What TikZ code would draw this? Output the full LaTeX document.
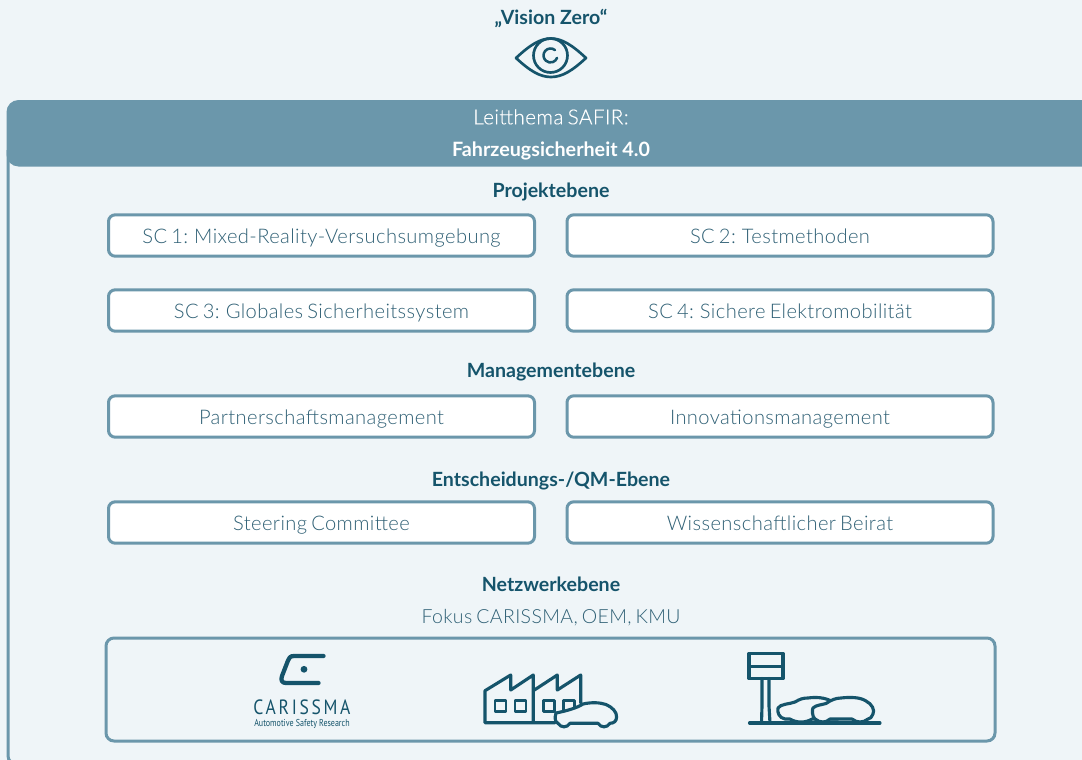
\documentclass[tikz,border=0pt]{standalone}
\usepackage{fontspec}
\setmainfont{Lato}[UprightFont=* Light,BoldFont=* Bold,LetterSpace=2,WordSpace=0.7]
\newfontfamily\boldlbl{Lato Bold}[LetterSpace=0]
\newfontfamily\whitefont{Lato Light}[FakeBold=0.25,LetterSpace=2,WordSpace=0.7]
\newfontfamily\logofont{PT Sans}[FakeStretch=0.85,LetterSpace=13]
\newfontfamily\logosmall{PT Sans}[FakeStretch=0.8]
\definecolor{bgc}{HTML}{EFF5F8}
\definecolor{framec}{HTML}{6B97AB}
\definecolor{darkc}{HTML}{15546B}
\definecolor{lightc}{HTML}{2F6075}
\tikzset{
 px/.style={x=0.75pt,y=-0.75pt},
 sc/.style={draw=framec,line width=2.25pt,fill=white,rounded corners=5pt,minimum width=319.5pt,minimum height=31pt,inner sep=0pt,text=lightc,text height=11.5pt,text depth=0pt,font=\fontsize{15.1pt}{17pt}\selectfont},
 head/.style={text=darkc,inner sep=0pt,text height=10.2pt,text depth=0pt,font=\boldlbl\fontsize{14.7pt}{17pt}\selectfont},
 sub/.style={text=lightc,inner sep=0pt,text height=10.2pt,text depth=0pt,font=\fontsize{14.6pt}{17pt}\selectfont},
 ic/.style={draw=darkc,line width=2.35pt,line join=round,line cap=round},
 icf/.style={ic,fill=bgc},
}
\begin{document}
\begin{tikzpicture}[px]
\useasboundingbox (0,0) rectangle (1082,760);
\fill[bgc] (0,0) rectangle (1082,760);
% frame
\begin{scope}
\clip (0,0) rectangle (1082,760);
\draw[framec,line width=2.25pt,rounded corners=7pt] (8,150) -- (8,765) -- (40,765);
\fill[framec,rounded corners=9pt] (6.5,100) rectangle (1110,166.5);
\end{scope}
% title
\node[head] (vision) at (551,17.5) {„Vision Zero“};
% eye
\draw[ic,line width=2pt] (516,58) .. controls (530,45) and (540,38.5) .. (551,38.5) .. controls (562,38.5) and (572,45) .. (586,58) .. controls (572,71) and (562,77) .. (551,77) .. controls (540,77) and (530,71) .. (516,58) -- cycle;
\draw[ic,line width=2pt] (550.5,55.5) circle[radius=17];
\draw[ic,line width=1.9pt] (555,50.1) arc[start angle=-50,end angle=-340,radius=7];
% header
\node[text=white,inner sep=0pt,text height=10.2pt,text depth=0pt,font=\whitefont\fontsize{15.5pt}{17pt}\selectfont] (h1) at (551,117.5) {Leitthema SAFIR:};
\node[text=white,inner sep=0pt,text height=10.2pt,text depth=0pt,font=\boldlbl\fontsize{14.8pt}{17pt}\selectfont] (h2) at (551,149.5) {Fahrzeugsicherheit 4.0};
\node[head] (pe) at (551,190.5) {Projektebene};
\node[sc] (sc1) at (321.5,235.5) {SC 1: Mixed-Reality-Versuchsumgebung};
\node[sc] (sc2) at (780,235.5) {SC 2: Testmethoden};
\node[sc] (sc3) at (321.5,310.5) {SC 3: Globales Sicherheitssystem};
\node[sc] (sc4) at (780,310.5) {SC 4: Sichere Elektromobilität};
\node[head] (me) at (551,370.5) {Managementebene};
\node[sc] (m1) at (321.5,416.5) {Partnerschaftsmanagement};
\node[sc] (m2) at (780,416.5) {Innovationsmanagement};
\node[head] (ee) at (551,479.5) {Entscheidungs-/QM-Ebene};
\node[sc] (e1) at (321.5,522.5) {Steering Committee};
\node[sc] (e2) at (780,522.5) {Wissenschaftlicher Beirat};
\node[head] (ne) at (551,584.5) {Netzwerkebene};
\node[sub] (fk) at (551,616.5) {Fokus CARISSMA, OEM, KMU};
\draw[framec,line width=2.25pt,rounded corners=6pt] (106,638) rectangle (995,741);
% CARISSMA logo
\draw[ic,line width=3.2pt] (323.5,656) -- (294,656) .. controls (290,656) and (289,658) .. (288,660.5) -- (282,676) .. controls (280.5,680.5) and (282,683) .. (286,683) -- (318.5,683);
\fill[darkc] (304,669.3) circle[radius=3.4];
\node[text=darkc,inner sep=0pt,font=\logofont\fontsize{15.5pt}{16pt}\selectfont] (lg1) at (302,707) {CARISSMA};
\node[text=darkc,inner sep=0pt,font=\logosmall\fontsize{7.5pt}{8pt}\selectfont] (lg2) at (302,724) {Automotive Safety Research};
% factory
\draw[ic] (555,722.7) -- (485,722.7) -- (485,690.7) -- (510.7,675) -- (510.7,690) -- (533.3,675) -- (533.3,722.7);
\draw[ic] (533.3,690.7) -- (557.3,675) -- (557.3,690) -- (580.7,675) -- (580.7,703);
\foreach \wx in {495,515,543.3,563.3}{\draw[ic,line width=2.1pt] (\wx,700.7) rectangle +(11,11);}
\draw[icf] (558,723.3) .. controls (555,722) and (554.5,718) .. (556,713) .. controls (566,711) and (577,708) .. (583,704) .. controls (592,702) and (600,702.5) .. (606,704.5) .. controls (612,707) and (617,712) .. (616.6,717) .. controls (616.5,721) and (614,723.3) .. (610,723.3) .. controls (607,728) and (601,728) .. (598,723.3) -- (570,723.3) .. controls (567,728) and (561,728) .. (558,723.3) -- cycle;
% station
\draw[ic] (749,653.5) rectangle (783,678.5);
\draw[ic] (749,666.7) -- (783,666.7);
\draw[ic] (762,678.5) -- (762,706) -- (761.5,723);
\draw[ic] (769,678.5) -- (769,706) -- (770,723);
\draw[icf] (785,719) .. controls (779,718) and (777,712) .. (778,708) .. controls (780,704) and (790,704) .. (795,702) .. controls (800,699) and (803,698) .. (808,698) .. controls (815,697) and (825,697) .. (833,702) -- (838,719) -- (812,719) .. controls (806,723) and (796,723) .. (790,719) -- cycle;
\draw[icf] (815,719) .. controls (812,717) and (812,709) .. (813,708) .. controls (816,705) and (821,705) .. (826,703.5) .. controls (831,700) and (836,698) .. (841,698) .. controls (850,697) and (860,697) .. (866,701) .. controls (872,704) and (875,710) .. (873,714) .. controls (872,717) and (870,719) .. (868,719) .. controls (863,723) and (857,723) .. (852,719) -- (830,719) .. controls (826,723) and (820,723) .. (815,719) -- cycle;
\draw[ic] (749.5,723) -- (880,723);
\end{tikzpicture}
\end{document}
